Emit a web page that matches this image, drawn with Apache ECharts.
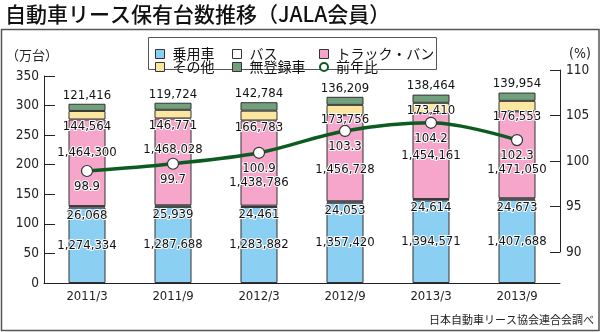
<!DOCTYPE html>
<html><head><meta charset="utf-8">
<script src="https://cdn.jsdelivr.net/npm/echarts@6/dist/echarts.min.js"></script>
<style>html,body{margin:0;padding:0;background:#fff}#c{width:600px;height:332px}</style>
</head><body><div id="c"></div>
<script>
// ---- data ----
const categories = ['2011/3','2011/9','2012/3','2012/9','2013/3','2013/9'];
const passenger    = [1274334, 1287688, 1283882, 1357420, 1394571, 1407688]; // 乗用車
const bus          = [26068, 25939, 24461, 24053, 24614, 24673];             // バス
const truck        = [1464300, 1468028, 1438786, 1456728, 1454161, 1471050]; // トラック・バン
const other        = [144564, 146771, 166783, 173756, 173410, 176553];       // その他
const unregistered = [121416, 119724, 142784, 136209, 138464, 139954];       // 無登録車
const yoyRatio     = [98.9, 99.7, 100.9, 103.3, 104.2, 102.3];               // 前年比(%)
const leftAxis  = {min: 0, max: 350, step: 50};
const rightAxis = {min: 90, max: 110, step: 5};

// ---- label layout shifts (style, not data) ----
const truckLabelShift = [-10, -12, 20, 11, 0, 15];
const otherLabelShift = [0, 0, 0, -3, -10, -2];

const numFont = '"DejaVu Sans Condensed","Liberation Sans Narrow","Liberation Sans",sans-serif';
const jpFont = '"Noto Sans CJK JP",sans-serif';
const fmt = v => v.toLocaleString('en-US');

const baseLabel = {show: true, fontFamily: numFont, fontSize: 13, lineHeight: 13, color: '#111',
  textBorderColor: '#fff', textBorderWidth: 2};
const barCommon = {type: 'bar', stack: 'total', barWidth: 37, xAxisIndex: 0, yAxisIndex: 0,
  itemStyle: {borderColor: '#333', borderWidth: 1}, emphasis: {disabled: true}};

function barSeries(name, arr, color, label, shifts) {
  return Object.assign({}, barCommon, {
    name,
    itemStyle: Object.assign({}, barCommon.itemStyle, {color}),
    data: arr.map((v, i) => {
      const d = {value: v / 10000};
      if (shifts) d.label = {offset: [0, shifts[i]]};
      return d;
    }),
    label: Object.assign({}, baseLabel, label, {formatter: p => fmt(arr[p.dataIndex])})
  });
}

const series = [
  barSeries('乗用車', passenger, '#8bd0f3', {position: 'inside'}),
  barSeries('バス', bus, '#ffffff', {position: 'bottom', distance: 1}),
  barSeries('トラック・バン', truck, '#f7a6cb', {position: 'inside'}, truckLabelShift),
  barSeries('その他', other, '#fde6a0', {position: 'bottom', distance: 1}, otherLabelShift),
  barSeries('無登録車', unregistered, '#72a07c', {position: 'top', distance: 2}),
  {
    name: '前年比', type: 'line', xAxisIndex: 1, yAxisIndex: 1, data: yoyRatio, z: 5,
    smooth: 0.35, symbol: 'circle', symbolSize: 11,
    lineStyle: {color: '#0c5c22', width: 3.5},
    itemStyle: {color: '#fff', borderColor: '#333', borderWidth: 1.2},
    label: Object.assign({}, baseLabel, {position: 'bottom', distance: 3, formatter: p => p.value.toFixed(1)}),
    emphasis: {disabled: true}
  }
];

function leg(name, left, top, extra) {
  return Object.assign({
    data: [name], left, top, padding: 0, icon: 'rect', itemWidth: 9, itemHeight: 9, selectedMode: false,
    itemStyle: {borderColor: '#333', borderWidth: 1},
    textStyle: {fontFamily: jpFont, fontSize: 14, color: '#111', padding: [0, 0, 0, 3]}
  }, extra || {});
}

const option = {
  animation: false,
  grid: [
    {left: 44, right: 40, top: 76, bottom: 49},
    {left: 44, right: 40, top: 70, bottom: 80}
  ],
  xAxis: [
    {type: 'category', gridIndex: 0, data: categories,
     axisLine: {lineStyle: {color: '#222', width: 1}}, axisTick: {show: false},
     axisLabel: {fontFamily: numFont, fontSize: 13, color: '#222', margin: 7}},
    {type: 'category', gridIndex: 1, data: categories, show: false}
  ],
  yAxis: [
    {type: 'value', gridIndex: 0, min: leftAxis.min, max: leftAxis.max, interval: leftAxis.step,
     axisLine: {show: true, lineStyle: {color: '#222'}},
     axisTick: {show: true, inside: true, length: 11, lineStyle: {color: '#222'}},
     splitLine: {show: false},
     axisLabel: {fontFamily: numFont, fontSize: 13.5, color: '#222', margin: 5}},
    {type: 'value', gridIndex: 1, position: 'right', min: rightAxis.min, max: rightAxis.max, interval: rightAxis.step,
     axisLine: {show: true, lineStyle: {color: '#222'}},
     axisTick: {show: true, inside: true, length: 10, lineStyle: {color: '#222'}},
     splitLine: {show: false},
     axisLabel: {fontFamily: numFont, fontSize: 13.5, color: '#222', margin: 6}}
  ],
  legend: [
    leg('乗用車', 155, 47),
    leg('バス', 232, 47),
    leg('トラック・バン', 319, 47),
    leg('その他', 155, 60),
    leg('無登録車', 232, 60),
    leg('前年比', 319, 60, {icon: 'circle', itemWidth: 8, itemHeight: 8,
      itemStyle: {color: '#fff', borderColor: '#0c5c22', borderWidth: 2}})
  ],
  graphic: [
    {type: 'rect', shape: {x: 1.5, y: 29.5, width: 597.5, height: 301}, z: 0,
     style: {fill: null, stroke: '#555', lineWidth: 1.5}},
    {type: 'rect', shape: {x: 148.5, y: 37.5, width: 288, height: 32}, z: 1,
     style: {fill: '#fff', stroke: '#555', lineWidth: 1}},
    {type: 'text', left: 5, top: 4, z: 10,
     style: {text: '自動車リース保有台数推移（JALA会員）', font: '500 21px "Noto Sans CJK JP", sans-serif', fill: '#111'}},
    {type: 'text', left: 6, top: 49, z: 10,
     style: {text: '（万台）', font: '13px "Noto Sans CJK JP", sans-serif', fill: '#222'}},
    {type: 'text', left: 569, top: 47, z: 10,
     style: {text: '(%)', font: '14px ' + numFont, fill: '#222'}},
    {type: 'text', right: 6, top: 314, z: 10,
     style: {text: '日本自動車リース協会連合会調べ', font: '11px "Noto Sans CJK JP", sans-serif', fill: '#222'}}
  ],
  series
};
const chart = echarts.init(document.getElementById('c'), null, {renderer: 'canvas'});
chart.setOption(option);
</script></body></html>
